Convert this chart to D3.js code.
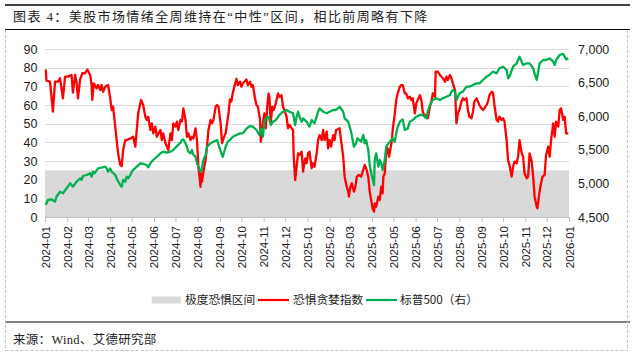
<!DOCTYPE html>
<html><head><meta charset="utf-8">
<script src="https://cdn.jsdelivr.net/npm/d3@7/dist/d3.min.js"></script>
<style>body{margin:0;background:#fff}svg{display:block}</style>
</head><body>
<svg id="chart" width="639" height="358"></svg>
<script>
// ---------- data ----------
const titleText = "图表 4：美股市场情绪全周维持在“中性”区间，相比前周略有下降";
const sourceText = "来源：Wind、艾德研究部";
const legendNames = ["极度恐惧区间", "恐惧贪婪指数", "标普500（右）"];
const extremeFearBand = [0, 25];
const leftTicks = [0, 10, 20, 30, 40, 50, 60, 70, 80, 90];
const rightTicks = [4500, 5000, 5500, 6000, 6500, 7000];
const dateRange = ["2024-01-01", "2026-01-01"];

const fearGreed = [
["2024-01-02",79],["2024-01-03",73],["2024-01-08",72.5],["2024-01-12",56.4],["2024-01-15",72.5],["2024-01-19",72.5],
["2024-01-22",74.3],["2024-01-26",63.6],["2024-01-29",75.2],["2024-02-02",75.2],["2024-02-07",76.1],["2024-02-09",66.6],
["2024-02-12",76.1],["2024-02-14",72.5],["2024-02-16",63.6],["2024-02-19",73.7],["2024-02-22",77],["2024-02-26",77],
["2024-02-29",79],["2024-03-04",76.1],["2024-03-06",70.7],["2024-03-07",62.7],["2024-03-09",71.6],["2024-03-13",68.9],
["2024-03-15",70.7],["2024-03-18",68],["2024-03-20",70.7],["2024-03-22",67.1],["2024-03-25",69.8],["2024-03-29",70.7],
["2024-04-01",63.6],["2024-04-03",57.3],["2024-04-05",59.1],["2024-04-08",48.4],["2024-04-10",41.2],["2024-04-12",34.1],
["2024-04-15",27.8],["2024-04-17",27.3],["2024-04-19",35.9],["2024-04-22",41.2],["2024-04-24",41.2],["2024-04-29",42.1],
["2024-05-03",43],["2024-05-06",37.7],["2024-05-08",46.6],["2024-05-10",55.5],["2024-05-14",62.7],["2024-05-17",60],
["2024-05-20",53.7],["2024-05-22",52],["2024-05-24",53.7],["2024-05-27",46.6],["2024-05-29",50.2],["2024-05-31",44.8],
["2024-06-03",48.4],["2024-06-05",43],["2024-06-10",46.6],["2024-06-12",41.2],["2024-06-14",44.8],["2024-06-17",39.5],
["2024-06-19",37.7],["2024-06-21",35.9],["2024-06-24",44.8],["2024-06-26",41.2],["2024-06-28",50.2],["2024-07-01",48.4],
["2024-07-03",51.1],["2024-07-05",46.6],["2024-07-08",52],["2024-07-10",51.1],["2024-07-12",58.2],["2024-07-15",52],
["2024-07-17",43],["2024-07-19",44.8],["2024-07-22",41.2],["2024-07-24",43],["2024-07-26",42.1],["2024-07-29",47.5],
["2024-07-31",41.2],["2024-08-02",26.9],["2024-08-05",16.2],["2024-08-06",23.4],["2024-08-07",18.9],["2024-08-09",24.3],
["2024-08-12",30.5],["2024-08-14",37.7],["2024-08-16",46.6],["2024-08-19",52],["2024-08-21",50.2],["2024-08-23",52],
["2024-08-26",59.1],["2024-08-28",60],["2024-08-30",59.1],["2024-09-02",50.2],["2024-09-04",39.5],["2024-09-06",42.1],
["2024-09-09",44.8],["2024-09-11",50.2],["2024-09-13",55.5],["2024-09-15",63],["2024-09-17",62],["2024-09-19",66.5],
["2024-09-22",71],["2024-09-24",74],["2024-09-26",70.7],["2024-09-29",72.5],["2024-10-01",69.8],["2024-10-03",71.6],
["2024-10-08",73.7],["2024-10-10",70.7],["2024-10-13",72.5],["2024-10-15",69.8],["2024-10-17",70.7],["2024-10-20",63.6],
["2024-10-22",60],["2024-10-24",59.1],["2024-10-27",52],["2024-10-28",40.3],["2024-10-29",43],["2024-10-31",50.2],
["2024-11-02",55.5],["2024-11-04",47.5],["2024-11-06",59.1],["2024-11-08",66.2],["2024-11-09",64.4],["2024-11-11",50.2],
["2024-11-13",59.1],["2024-11-15",57.3],["2024-11-18",60.9],["2024-11-21",66.2],["2024-11-23",64.4],["2024-11-26",65.3],
["2024-11-28",59.1],["2024-11-30",57.3],["2024-12-03",53.7],["2024-12-05",47.5],["2024-12-07",49.3],["2024-12-10",47.5],
["2024-12-12",46.6],["2024-12-13",32.3],["2024-12-15",19.8],["2024-12-17",26.9],["2024-12-19",34.1],["2024-12-21",33.2],
["2024-12-24",35],["2024-12-26",24.3],["2024-12-29",31.4],["2024-12-31",28.8],["2025-01-02",34.1],["2025-01-04",35],
["2025-01-07",26.1],["2025-01-09",28.8],["2025-01-11",26.9],["2025-01-14",34.1],["2025-01-16",41.2],["2025-01-18",43.9],
["2025-01-21",41.2],["2025-01-23",46.6],["2025-01-25",41.2],["2025-01-28",45.7],["2025-01-30",36.8],["2025-02-01",41.2],
["2025-02-03",37.7],["2025-02-06",43.9],["2025-02-08",41.2],["2025-02-10",46.6],["2025-02-13",47],["2025-02-15",47.5],
["2025-02-17",41.2],["2025-02-20",32.3],["2025-02-22",21.6],["2025-02-25",16.2],["2025-02-27",13.6],["2025-02-28",10.9],
["2025-03-02",16.2],["2025-03-04",18.1],["2025-03-07",13.6],["2025-03-09",16.2],["2025-03-11",21.6],["2025-03-14",22.5],
["2025-03-17",21.6],["2025-03-20",25.2],["2025-03-22",27.9],["2025-03-24",26.1],["2025-03-27",21.6],["2025-03-29",13.6],
["2025-03-31",9.1],["2025-04-02",4.6],["2025-04-04",2.9],["2025-04-05",7.3],["2025-04-07",5.5],["2025-04-10",10.9],
["2025-04-12",9.1],["2025-04-14",16.2],["2025-04-16",12.7],["2025-04-17",21.6],["2025-04-19",23.4],["2025-04-21",35],
["2025-04-23",36.8],["2025-04-25",32.3],["2025-04-27",36.8],["2025-04-29",41.2],["2025-04-30",46.6],["2025-05-03",55.5],
["2025-05-05",62.7],["2025-05-07",66.2],["2025-05-10",69.8],["2025-05-12",70.7],["2025-05-14",70.7],["2025-05-17",66.2],
["2025-05-19",66.2],["2025-05-21",63.6],["2025-05-24",64.4],["2025-05-26",62.7],["2025-05-28",63.6],["2025-05-31",55.5],
["2025-06-02",60.9],["2025-06-04",62.7],["2025-06-07",65.3],["2025-06-09",62.7],["2025-06-11",56.4],["2025-06-14",53.7],
["2025-06-16",54.6],["2025-06-18",52.9],["2025-06-21",59.1],["2025-06-23",61.8],["2025-06-25",66.2],["2025-06-28",64.4],
["2025-06-29",77.8],["2025-07-02",77.8],["2025-07-05",76.1],["2025-07-07",75.2],["2025-07-09",74.3],["2025-07-12",72.5],
["2025-07-14",75.2],["2025-07-16",73.4],["2025-07-19",76.1],["2025-07-21",74.3],["2025-07-23",71.6],["2025-07-26",68],
["2025-07-28",50.2],["2025-07-30",55.5],["2025-08-01",57.3],["2025-08-04",61.8],["2025-08-06",63.6],["2025-08-08",62.7],
["2025-08-11",63.6],["2025-08-13",57.3],["2025-08-15",53.7],["2025-08-18",52.9],["2025-08-20",56.4],["2025-08-22",61.8],
["2025-08-25",63.6],["2025-08-27",61.8],["2025-08-29",60],["2025-09-01",58.2],["2025-09-03",57.3],["2025-09-05",58.2],
["2025-09-08",60],["2025-09-10",61.8],["2025-09-12",65.3],["2025-09-15",67.1],["2025-09-17",66.6],["2025-09-19",60],
["2025-09-22",52],["2025-09-24",51.1],["2025-09-26",53.7],["2025-09-29",52],["2025-10-01",52.9],["2025-10-03",51.1],
["2025-10-06",41.2],["2025-10-08",30.5],["2025-10-10",27.8],["2025-10-13",21.6],["2025-10-15",26.9],["2025-10-17",29.7],
["2025-10-20",28.8],["2025-10-22",32.3],["2025-10-24",41.2],["2025-10-27",34.1],["2025-10-29",32.3],["2025-10-31",23.4],
["2025-11-03",20.7],["2025-11-05",21.6],["2025-11-07",34.1],["2025-11-10",29.7],["2025-11-12",21.6],["2025-11-14",10.9],
["2025-11-17",5.5],["2025-11-18",4.6],["2025-11-20",10.9],["2025-11-22",16.2],["2025-11-25",21.6],["2025-11-28",22.5],
["2025-11-30",33.2],["2025-12-03",37.7],["2025-12-05",32.3],["2025-12-07",41.2],["2025-12-10",50.2],["2025-12-12",43],
["2025-12-14",51.1],["2025-12-17",48.4],["2025-12-19",57.3],["2025-12-21",58.2],["2025-12-24",52],["2025-12-26",53.7],
["2025-12-28",44.8],["2025-12-31",44.8]
];

const sp500 = [
["2024-01-02",4679],["2024-01-05",4753],["2024-01-10",4763],["2024-01-15",4728],["2024-01-17",4802],["2024-01-22",4876],
["2024-01-26",4852],["2024-01-31",4927],["2024-02-05",5001],["2024-02-09",4951],["2024-02-14",5025],["2024-02-19",5075],
["2024-02-21",5051],["2024-02-23",5110],["2024-02-28",5125],["2024-03-04",5150],["2024-03-06",5100],["2024-03-08",5174],
["2024-03-10",5150],["2024-03-15",5224],["2024-03-20",5234],["2024-03-25",5249],["2024-03-27",5224],["2024-03-29",5174],
["2024-04-01",5224],["2024-04-03",5174],["2024-04-08",5125],["2024-04-11",5051],["2024-04-15",4976],["2024-04-17",4951],
["2024-04-19",5051],["2024-04-22",5025],["2024-04-24",5100],["2024-04-26",5075],["2024-04-29",5125],["2024-05-01",5174],
["2024-05-03",5199],["2024-05-08",5249],["2024-05-13",5299],["2024-05-17",5289],["2024-05-22",5274],["2024-05-24",5239],
["2024-05-27",5299],["2024-05-31",5348],["2024-06-05",5397],["2024-06-10",5448],["2024-06-14",5472],["2024-06-19",5457],
["2024-06-24",5472],["2024-06-28",5497],["2024-07-03",5556],["2024-07-08",5606],["2024-07-10",5646],["2024-07-12",5656],
["2024-07-15",5597],["2024-07-17",5546],["2024-07-19",5472],["2024-07-22",5448],["2024-07-24",5497],["2024-07-26",5423],
["2024-07-29",5397],["2024-07-31",5299],["2024-08-05",5174],["2024-08-07",5199],["2024-08-08",5299],["2024-08-09",5348],
["2024-08-12",5423],["2024-08-14",5546],["2024-08-19",5597],["2024-08-23",5621],["2024-08-28",5646],["2024-09-03",5448],
["2024-09-05",5397],["2024-09-09",5546],["2024-09-12",5621],["2024-09-15",5646],["2024-09-19",5695],["2024-09-24",5720],
["2024-09-29",5745],["2024-10-03",5745],["2024-10-08",5814],["2024-10-13",5854],["2024-10-17",5844],["2024-10-22",5795],
["2024-10-26",5720],["2024-10-29",5814],["2024-10-31",5695],["2024-11-02",5918],["2024-11-04",5968],["2024-11-08",5993],
["2024-11-11",5869],["2024-11-14",5918],["2024-11-18",5943],["2024-11-23",6018],["2024-11-28",6067],["2024-12-03",6092],
["2024-12-07",6067],["2024-12-12",6043],["2024-12-15",5869],["2024-12-17",5993],["2024-12-19",6067],["2024-12-21",5993],
["2024-12-24",5918],["2024-12-26",5968],["2024-12-31",5918],["2025-01-04",5844],["2025-01-07",5943],["2025-01-11",5894],
["2025-01-16",6067],["2025-01-18",6117],["2025-01-23",6067],["2025-01-28",6043],["2025-02-01",6067],["2025-02-06",6092],
["2025-02-10",6092],["2025-02-15",6141],["2025-02-20",6067],["2025-02-22",5968],["2025-02-27",5918],["2025-03-03",5769],
["2025-03-07",5546],["2025-03-10",5597],["2025-03-12",5671],["2025-03-17",5621],["2025-03-20",5720],["2025-03-22",5597],
["2025-03-24",5646],["2025-03-27",5497],["2025-03-29",5274],["2025-03-31",5150],["2025-04-04",4976],["2025-04-05",5348],
["2025-04-07",5448],["2025-04-10",5249],["2025-04-12",5348],["2025-04-14",5299],["2025-04-16",5199],["2025-04-19",5348],
["2025-04-21",5546],["2025-04-26",5621],["2025-04-30",5671],["2025-05-03",5621],["2025-05-05",5745],["2025-05-07",5844],
["2025-05-10",5918],["2025-05-14",5953],["2025-05-17",5795],["2025-05-21",5814],["2025-05-24",5918],["2025-05-28",5943],
["2025-06-02",5993],["2025-06-07",6018],["2025-06-11",6018],["2025-06-16",5968],["2025-06-18",6067],["2025-06-21",6167],
["2025-06-25",6241],["2025-06-30",6266],["2025-07-05",6241],["2025-07-09",6266],["2025-07-14",6290],["2025-07-19",6315],
["2025-07-21",6365],["2025-07-23",6390],["2025-07-26",6365],["2025-07-28",6241],["2025-07-30",6290],["2025-08-01",6340],
["2025-08-06",6365],["2025-08-11",6439],["2025-08-15",6439],["2025-08-20",6464],["2025-08-25",6489],["2025-08-29",6489],
["2025-09-03",6539],["2025-09-08",6588],["2025-09-12",6613],["2025-09-17",6662],["2025-09-22",6638],["2025-09-26",6713],
["2025-10-01",6737],["2025-10-06",6687],["2025-10-08",6564],["2025-10-10",6588],["2025-10-15",6737],["2025-10-20",6787],
["2025-10-24",6885],["2025-10-27",6811],["2025-10-29",6762],["2025-11-03",6787],["2025-11-07",6787],["2025-11-12",6713],
["2025-11-14",6638],["2025-11-17",6539],["2025-11-19",6662],["2025-11-21",6787],["2025-11-26",6836],["2025-11-30",6836],
["2025-12-05",6861],["2025-12-10",6811],["2025-12-12",6762],["2025-12-14",6836],["2025-12-19",6911],["2025-12-24",6925],
["2025-12-26",6885],["2025-12-28",6846],["2025-12-31",6861]
];

// ---------- drawing ----------
const parse = d3.timeParse("%Y-%m-%d");
const svg = d3.select("#chart");
const plot = {left: 45, right: 569, top: 49, bottom: 217};
const axisFont = "'Liberation Sans', Arial, sans-serif";
const cjkFont = "'Noto Sans CJK SC', sans-serif";
const serifFont = "'Liberation Serif', 'Noto Sans CJK SC', serif";

const x = d3.scaleTime().domain(dateRange.map(parse)).range([plot.left, plot.right]);
const yL = d3.scaleLinear().domain([0, 90]).range([plot.bottom, plot.top]);
const yR = d3.scaleLinear().domain([4500, 7000]).range([plot.bottom, plot.top]);

// frame
const frame = svg.append("g");
frame.append("line").attr("x1", 5).attr("x2", 630).attr("y1", 5).attr("y2", 5).attr("stroke", "#000").attr("stroke-width", 1.3);
frame.append("line").attr("x1", 5).attr("x2", 630).attr("y1", 29.5).attr("y2", 29.5).attr("stroke", "#000").attr("stroke-width", 1);
frame.append("line").attr("x1", 5).attr("x2", 630).attr("y1", 322).attr("y2", 322).attr("stroke", "#000").attr("stroke-width", 1.2);
[[5.5, 30, 5.5, 350.5], [627.5, 30, 627.5, 350.5], [5.5, 350.5, 627.5, 350.5]].forEach(l => {
  frame.append("line").attr("x1", l[0]).attr("y1", l[1]).attr("x2", l[2]).attr("y2", l[3])
    .attr("stroke", "#c4c4c4").attr("stroke-width", 1).attr("stroke-dasharray", "3,2");
});
svg.append("text").attr("x", 13).attr("y", 21).text(titleText)
  .attr("font-family", serifFont).attr("font-size", 13).attr("letter-spacing", 1.4).attr("fill", "#222");
svg.append("text").attr("x", 13).attr("y", 344).text(sourceText)
  .attr("font-family", serifFont).attr("font-size", 12.5).attr("letter-spacing", 0.3).attr("fill", "#222");

// gridlines
svg.append("g").selectAll("line").data(leftTicks.filter(t => t > 0)).join("line")
  .attr("x1", plot.left).attr("x2", plot.right)
  .attr("y1", d => Math.round(yL(d)) + 0.5).attr("y2", d => Math.round(yL(d)) + 0.5)
  .attr("stroke", "#d9d9d9").attr("stroke-width", 1);

// extreme fear band
svg.append("rect").attr("x", plot.left).attr("width", plot.right - plot.left)
  .attr("y", yL(extremeFearBand[1])).attr("height", yL(extremeFearBand[0]) - yL(extremeFearBand[1]))
  .attr("fill", "#d9d9d9");

// x axis
const monthTicks = d3.timeMonth.range(parse(dateRange[0]), d3.timeDay.offset(parse(dateRange[1]), 1));
const xAxis = svg.append("g").attr("transform", `translate(0,${plot.bottom})`)
  .call(d3.axisBottom(x).tickValues(monthTicks).tickFormat(d3.timeFormat("%Y-%m")).tickSize(5).tickSizeOuter(0));
xAxis.select(".domain").attr("stroke", "#bfbfbf");
xAxis.selectAll(".tick line").attr("stroke", "#bfbfbf");
xAxis.selectAll(".tick text")
  .attr("transform", "rotate(-90)").attr("text-anchor", "end")
  .attr("x", -9).attr("y", 0).attr("dy", "0.35em")
  .attr("font-family", axisFont).attr("font-size", 11.5).attr("fill", "#1a1a1a");

// left axis
const yAxisL = svg.append("g").attr("transform", `translate(${plot.left},0)`)
  .call(d3.axisLeft(yL).tickValues(leftTicks).tickSize(0).tickPadding(7.5));
yAxisL.select(".domain").remove();
yAxisL.selectAll("text").attr("font-family", axisFont).attr("font-size", 12.5).attr("fill", "#1a1a1a");

// right axis
const yAxisR = svg.append("g").attr("transform", `translate(${plot.right},0)`)
  .call(d3.axisRight(yR).tickValues(rightTicks).tickFormat(d3.format(",")).tickSize(0).tickPadding(9));
yAxisR.select(".domain").remove();
yAxisR.selectAll("text").attr("font-family", axisFont).attr("font-size", 12.5).attr("fill", "#1a1a1a");

// lines
const redLine = d3.line().x(d => x(parse(d[0]))).y(d => yL(d[1]));
const greenLine = d3.line().x(d => x(parse(d[0]))).y(d => yR(d[1]));
svg.append("path").datum(fearGreed).attr("d", redLine)
  .attr("fill", "none").attr("stroke", "#ff0000").attr("stroke-width", 2.3).attr("stroke-linejoin", "round");
svg.append("path").datum(sp500).attr("d", greenLine)
  .attr("fill", "none").attr("stroke", "#00b050").attr("stroke-width", 2.3).attr("stroke-linejoin", "round");

// legend
const lg = svg.append("g").attr("font-family", cjkFont).attr("font-size", 11.7).attr("fill", "#1a1a1a");
const ly = 300;
lg.append("rect").attr("x", 151.7).attr("y", ly - 3.5).attr("width", 29).attr("height", 7).attr("fill", "#d9d9d9");
lg.append("text").attr("x", 185).attr("y", ly).attr("dy", "0.35em").text(legendNames[0]);
lg.append("line").attr("x1", 258).attr("x2", 289).attr("y1", ly).attr("y2", ly).attr("stroke", "#ff0000").attr("stroke-width", 2.2);
lg.append("text").attr("x", 293).attr("y", ly).attr("dy", "0.35em").text(legendNames[1]);
lg.append("line").attr("x1", 366).attr("x2", 397).attr("y1", ly).attr("y2", ly).attr("stroke", "#00b050").attr("stroke-width", 2.2);
lg.append("text").attr("x", 400).attr("y", ly).attr("dy", "0.35em").text(legendNames[2]);
</script>
</body></html>
